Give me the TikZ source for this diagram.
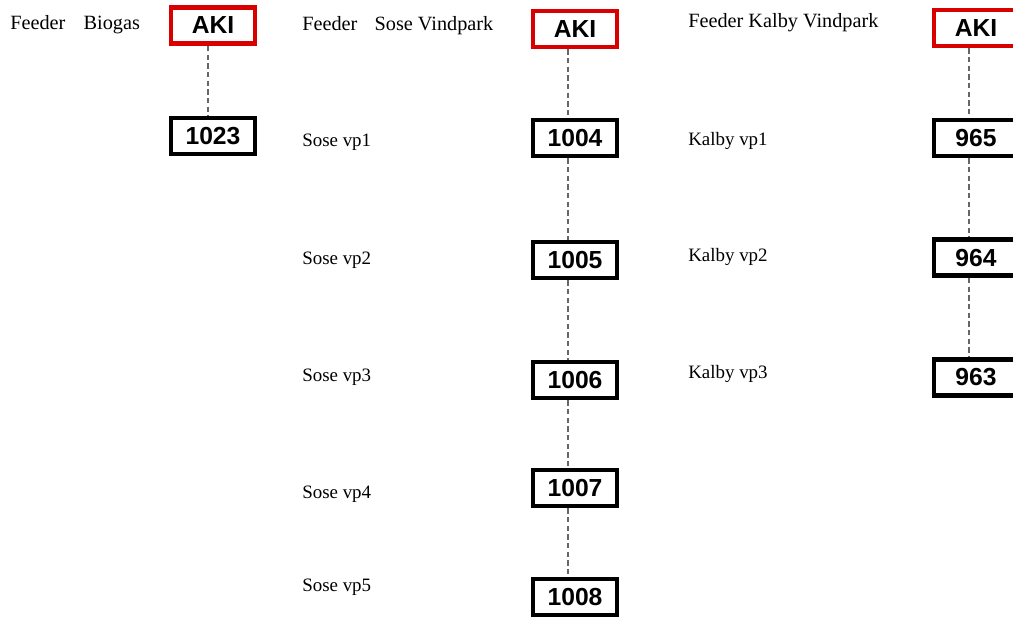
\documentclass[tikz,border=0pt]{standalone}
\usepackage{fontspec}
\setmainfont{Liberation Serif}
\newfontfamily\boxfont{Liberation Sans}
\begin{document}
\begin{tikzpicture}[x=0.75pt,y=-0.75pt,
  bx/.style={draw=black,line width=3.6pt,fill=white,minimum width=63pt,minimum height=27pt,inner sep=0pt,font=\boxfont\bfseries\fontsize{18.5}{20}\selectfont},
  redbx/.style={bx,draw=red!85!black},
  lbl/.style={anchor=west,inner sep=0pt,font=\fontsize{14.2}{16}\selectfont},
  ttl/.style={lbl,font=\fontsize{15.2}{17}\selectfont},
  link/.style={draw=gray!80!black,line width=1.5pt,dash pattern=on 4pt off 2.5pt}]
\useasboundingbox (0,0) rectangle (1013,619);
% left column
\node[ttl] (t1) at (10,25) {Feeder\hspace{0.9em}Biogas};
\node[redbx] (a1) at (213,25.5) {AKI};
\node[bx] (n1023) at (213,136) {1023};
% middle column
\node[ttl] (t2) at (302,26) {Feeder\hspace{0.85em}Sose Vindpark};
\node[redbx] (a2) at (575,29) {AKI};
\node[bx] (n1004) at (575,138) {1004};
\node[bx] (n1005) at (575,260) {1005};
\node[bx] (n1006) at (575,380) {1006};
\node[bx] (n1007) at (575,488) {1007};
\node[bx] (n1008) at (575,597) {1008};
\node[lbl] (s1) at (302,142) {Sose vp1};
\node[lbl] (s2) at (302,260) {Sose vp2};
\node[lbl] (s3) at (302,377) {Sose vp3};
\node[lbl] (s4) at (302,494) {Sose vp4};
\node[lbl] (s5) at (302,587) {Sose vp5};
% right column
\node[ttl] (t3) at (688,23) {Feeder Kalby Vindpark};
\node[redbx] (a3) at (976,28) {AKI};
\node[bx] (n965) at (976,138) {965};
\node[bx] (n964) at (976,257.5) {964};
\node[bx] (n963) at (976,377.5) {963};
\node[lbl] (k1) at (688,141) {Kalby vp1};
\node[lbl] (k2) at (688,257) {Kalby vp2};
\node[lbl] (k3) at (688,374) {Kalby vp3};
% connectors
\draw[link] ([xshift=-4pt]a1.south) -- ([xshift=-4pt]n1023.north);
\draw[link] ([xshift=-5pt]a2.south) -- ([xshift=-5pt]n1004.north);
\draw[link] ([xshift=-5pt]n1004.south) -- ([xshift=-5pt]n1005.north);
\draw[link] ([xshift=-5pt]n1005.south) -- ([xshift=-5pt]n1006.north);
\draw[link] ([xshift=-5pt]n1006.south) -- ([xshift=-5pt]n1007.north);
\draw[link] ([xshift=-5pt]n1007.south) -- ([xshift=-5pt]n1008.north);
\draw[link] ([xshift=-5pt]a3.south) -- ([xshift=-5pt]n965.north);
\draw[link] ([xshift=-5pt]n965.south) -- ([xshift=-5pt]n964.north);
\draw[link] ([xshift=-5pt]n964.south) -- ([xshift=-5pt]n963.north);
\end{tikzpicture}
\end{document}
